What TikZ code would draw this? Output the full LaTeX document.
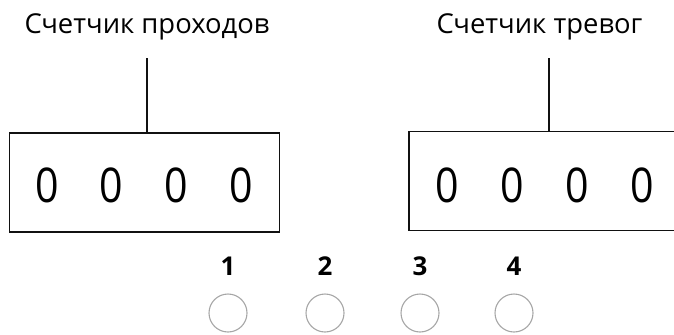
\documentclass[tikz,border=0pt]{standalone}
\usepackage{fontspec}
\setmainfont{Open Sans}
\usetikzlibrary{positioning, calc}
\definecolor{cline}{HTML}{111111}
\definecolor{cled}{HTML}{A6A6A6}
\tikzset{
  every picture/.style={line width=1.5bp},
  counterbox/.style={draw=cline, minimum width=270bp, minimum height=99bp, inner sep=0pt},
  title/.style={font=\fontsize{27.5}{30}\selectfont, inner sep=0pt, anchor=base},
  digit/.style={font=\fontsize{48}{48}\selectfont, inner sep=0pt},
  lednum/.style={font=\fontsize{26}{27}\selectfont\bfseries, inner sep=0pt},
  led/.style={draw=cled, circle, minimum size=38bp, inner sep=0pt, line width=1.1bp},
}
\newcommand{\zerodigit}{\scalebox{0.86}[1]{0}}

\begin{document}
\begin{tikzpicture}[x=1bp, y=-1bp]
  \useasboundingbox (0,0) rectangle (674,334);
  \clip (0,0) rectangle (674,334);
  % pass counter
  \node[title] (ttl1) at (147,33) {Счетчик проходов};
  \node[counterbox] (box1) at (144.5,182.5) {};
  \foreach \i in {0,...,3} \node[digit] (d1\i) at ({47+\i*64.7},185) {\zerodigit};
  \draw[cline] ([yshift=-18bp]ttl1.south) -- (ttl1.south |- box1.north);
  % alarm counter
  \node[title] (ttl2) at (539.5,33) {Счетчик тревог};
  \node[counterbox] (box2) at (544,181) {};
  \foreach \i in {0,...,3} \node[digit] (d2\i) at ({447+\i*65},185) {\zerodigit};
  \draw[cline] ([xshift=9.5bp, yshift=-18bp]ttl2.south) -- ([xshift=9.5bp]ttl2.south |- box2.north);
  % indicators
  \foreach \n/\x in {1/228, 2/325, 3/420, 4/514} {
    \node[lednum] (num\n) at (\x,266.5) {\n};
    \node[led] (led\n) at (\x,313) {};
  }
\end{tikzpicture}
\end{document}
